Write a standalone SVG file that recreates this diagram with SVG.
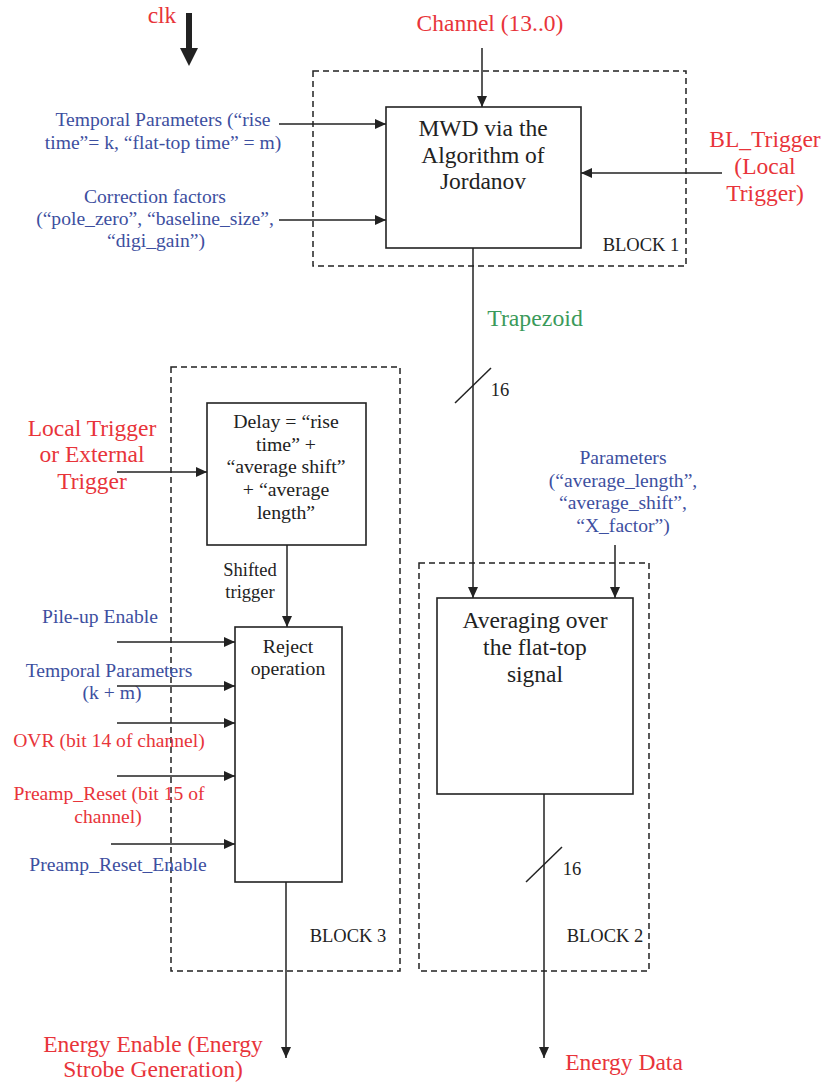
<svg xmlns="http://www.w3.org/2000/svg" width="825" height="1082" viewBox="0 0 825 1082" font-family="'Liberation Serif', 'Times New Roman', serif">
<defs>
<marker id="ah" markerWidth="11" markerHeight="10" refX="11" refY="5" orient="auto" markerUnits="userSpaceOnUse"><path d="M0,0 L11,5 L0,10 z" fill="#222"/></marker>
<style>
text{text-anchor:middle}
.red{fill:#e8343a;font-size:23.5px}
.reds{fill:#e8343a;font-size:19.6px}
.blue{fill:#3d4fa0;font-size:19.6px}
.blk{fill:#222;font-size:23.5px}
.blks{fill:#222;font-size:19.8px}
.lbl{fill:#222;font-size:18.5px}
.grn{fill:#3a9a5a;font-size:23.8px}
.box{fill:none;stroke:#222;stroke-width:1.6}
.dash{fill:none;stroke:#222;stroke-width:1.5;stroke-dasharray:6,4}
.conn{fill:none;stroke:#222;stroke-width:1.5}
.arr{fill:none;stroke:#222;stroke-width:1.5;marker-end:url(#ah)}
</style>
</defs>
<rect width="825" height="1082" fill="#fff"/>

<g id="block1">
<rect class="dash" x="313" y="71" width="373" height="195"/>
<text class="lbl" x="641" y="251">BLOCK 1</text>
</g>
<g id="mwd">
<rect class="box" x="386" y="107" width="195" height="141"/>
<text class="blk" x="483" y="136">MWD via the</text>
<text class="blk" x="483" y="163">Algorithm of</text>
<text class="blk" x="483" y="189">Jordanov</text>
</g>

<g id="block3">
<rect class="dash" x="171" y="367" width="229" height="604"/>
<text class="lbl" x="348" y="942">BLOCK 3</text>
</g>
<g id="delay">
<rect class="box" x="207" y="403" width="159" height="142"/>
<text class="blks" x="286" y="428">Delay = “rise</text>
<text class="blks" x="286" y="451">time” +</text>
<text class="blks" x="286" y="473">“average shift”</text>
<text class="blks" x="286" y="496">+ “average</text>
<text class="blks" x="286" y="519">length”</text>
</g>
<g id="reject">
<rect class="box" x="235" y="627" width="107" height="255"/>
<text class="blks" x="288" y="653">Reject</text>
<text class="blks" x="288" y="675">operation</text>
</g>

<g id="block2">
<rect class="dash" x="419" y="563" width="230" height="408"/>
<text class="lbl" x="605" y="942">BLOCK 2</text>
</g>
<g id="averaging">
<rect class="box" x="437" y="598" width="196" height="196"/>
<text class="blk" x="535" y="628">Averaging over</text>
<text class="blk" x="535" y="655">the flat-top</text>
<text class="blk" x="535" y="682">signal</text>
</g>

<g id="labels">
<text class="red" x="162" y="23">clk</text>
<text class="red" x="490" y="31">Channel (13..0)</text>
<text class="blue" x="163" y="126">Temporal Parameters (“rise</text>
<text class="blue" x="163" y="149">time”= k, “flat-top time” = m)</text>
<text class="blue" x="155" y="203">Correction factors</text>
<text class="blue" x="155" y="225">(“pole_zero”,  “baseline_size”,</text>
<text class="blue" x="156" y="247">“digi_gain”)</text>
<text class="red" x="765" y="147">BL_Trigger</text>
<text class="red" x="765" y="174">(Local</text>
<text class="red" x="765" y="201">Trigger)</text>
<text class="grn" x="535" y="326">Trapezoid</text>
<text class="lbl" x="500" y="396">16</text>
<text class="blue" x="623" y="464">Parameters</text>
<text class="blue" x="623" y="487">(“average_length”,</text>
<text class="blue" x="623" y="509">“average_shift”,</text>
<text class="blue" x="623" y="532">“X_factor”)</text>
<text class="red" x="92" y="436">Local Trigger</text>
<text class="red" x="92" y="462">or External</text>
<text class="red" x="92" y="489">Trigger</text>
<text class="lbl" x="250" y="576">Shifted</text>
<text class="lbl" x="250" y="598">trigger</text>
<text class="blue" x="100" y="623">Pile-up Enable</text>
<text class="blue" x="109" y="677">Temporal Parameters</text>
<text class="blue" x="112" y="699">(k + m)</text>
<text class="reds" x="109" y="747">OVR (bit 14 of channel)</text>
<text class="reds" x="109" y="800">Preamp_Reset (bit 15 of</text>
<text class="reds" x="108" y="823">channel)</text>
<text class="blue" x="118" y="871">Preamp_Reset_Enable</text>
<text class="lbl" x="572" y="875">16</text>
<text class="red" x="153" y="1052">Energy Enable (Energy</text>
<text class="red" x="153" y="1077">Strobe Generation)</text>
<text class="red" x="624" y="1070">Energy Data</text>
</g>

<g id="connectors">
<path d="M186,13 H192 V48 H198 L189,66 L180,48 H186 Z" fill="#222"/>
<line class="arr" x1="482" y1="48" x2="482" y2="107"/>
<line class="arr" x1="279" y1="124" x2="386" y2="124"/>
<line class="arr" x1="279" y1="220" x2="386" y2="220"/>
<line class="arr" x1="722" y1="173" x2="581" y2="173"/>
<line class="arr" x1="473" y1="248" x2="473" y2="598"/>
<line class="conn" x1="455" y1="403" x2="491" y2="368"/>
<line class="arr" x1="615" y1="545" x2="615" y2="598"/>
<line class="arr" x1="544" y1="794" x2="544" y2="1058"/>
<line class="conn" x1="526" y1="882" x2="562" y2="847"/>
<line class="arr" x1="117" y1="472" x2="207" y2="472"/>
<line class="arr" x1="287" y1="545" x2="287" y2="627"/>
<line class="arr" x1="117" y1="642" x2="235" y2="642"/>
<line class="arr" x1="117" y1="686" x2="235" y2="686"/>
<line class="arr" x1="117" y1="723" x2="235" y2="723"/>
<line class="arr" x1="117" y1="776" x2="235" y2="776"/>
<line class="arr" x1="111" y1="844" x2="235" y2="844"/>
<line class="arr" x1="286" y1="882" x2="286" y2="1058"/>
</g>
</svg>
